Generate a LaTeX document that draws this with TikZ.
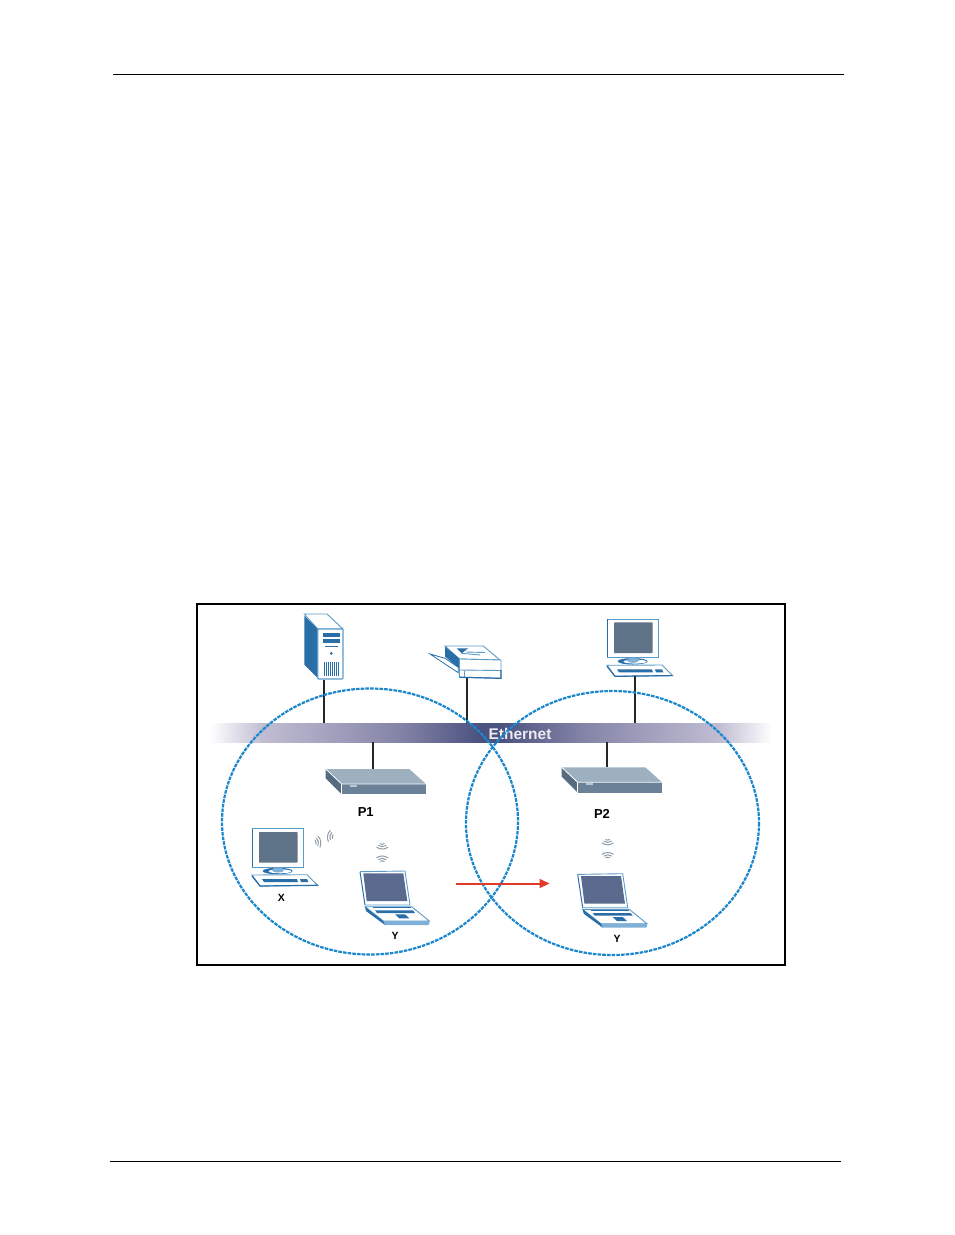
\documentclass[tikz,border=0pt]{standalone}
\usepackage{fontspec}
\setmainfont{Liberation Sans}
\usepackage{xcolor}
\usetikzlibrary{arrows.meta}
\definecolor{iconblue}{HTML}{2A6EA8}
\definecolor{edgeblue}{HTML}{5B9BC8}
\definecolor{padblue}{HTML}{7FB0D8}
\definecolor{bandblue}{HTML}{4C5280}
\definecolor{zoneblue}{HTML}{1A86CC}
\definecolor{monscreen}{HTML}{5F7389}
\definecolor{lapscreen}{HTML}{5A6A8F}
\definecolor{aptop}{HTML}{9DB0BF}
\definecolor{apfront}{HTML}{6B8197}
\definecolor{apside}{HTML}{566A80}
\definecolor{wavegray}{HTML}{8E9CAA}
\definecolor{movered}{HTML}{E03A2A}

\pgfdeclarehorizontalshading{bandshade}{100bp}{
	rgb(0bp)=(1,1,1); rgb(25bp)=(1,1,1); rgb(29.7bp)=(.753,.741,.827); rgb(41.6bp)=(.522,.522,.659); rgb(49bp)=(.298,.322,.502);
	rgb(51bp)=(.298,.322,.502); rgb(58.4bp)=(.522,.522,.659); rgb(70.3bp)=(.753,.741,.827); rgb(75bp)=(1,1,1); rgb(100bp)=(1,1,1)}

\tikzset{
	link/.style={black!85, line width=1.8pt},
	zone/.style={zoneblue, line width=2.2pt, dash pattern=on 3.6pt off 1.1pt},
	iconline/.style={edgeblue, line width=0.9pt},
	pics/wavepic/.style={code={
		\foreach \r in {3,5.5,8}
			\draw[wavegray, line width=1pt] (-0.72*\r,-0.7*\r) .. controls (-0.3*\r,-1.02*\r) and (0.3*\r,-1.02*\r) .. (0.72*\r,-0.7*\r);
	}},
	pics/monitorpic/.style={code={
		\draw[iconline, fill=white] (7.3,6.7) rectangle (58.3,45);
		\draw[iconblue, line width=1.3pt] (7.3,6.7) -- (7.3,45);
		\fill[monscreen, rounded corners=0.7pt] (14,10) rectangle (52.7,40.7);
		\fill[iconblue] (32.7,49) ellipse [x radius=15, y radius=3.2];
		\fill[white] (35,49.3) ellipse [x radius=11.5, y radius=2];
		\fill[padblue] (33,48) ellipse [x radius=6, y radius=2.5];
		\draw[iconline, fill=white] (7,53) -- (62,52.7) -- (72.7,63.3) -- (15,64) -- cycle;
		\draw[iconblue, line width=1.2pt] (7,54) -- (15,64) -- (72.7,63.3);
		\fill[iconblue] (17,57) -- (52,57) -- (53,60) -- (19,60) -- cycle;
		\fill[iconblue] (55,57) -- (62,57) -- (63.5,60) -- (56,60) -- cycle;
	}},
	pics/appic/.style={code={
		\fill[aptop] (0,0) -- (83.6,0) -- (100.3,15) -- (16,15) -- cycle;
		\fill[apfront] (16,15) rectangle (100.3,25.3);
		\fill[apside] (0,0) -- (16,15) -- (16,25.3) -- (0,9.3) -- cycle;
		\draw[white, line width=0.8pt] (0,0) -- (16,15) -- (100.3,15);
		\draw[white, line width=0.6pt] (16,15) -- (16,25.3);
		\fill[aptop!70!white] (24,16) rectangle (31.5,17.7);
	}},
	pics/laptoppic/.style={code={
		\draw[iconblue, line width=1pt] (10,36.7) -- (15,70);
		\draw[iconline] (10,36.7) -- (55,36) -- (60,70) -- (15,70);
		\fill[lapscreen] (13.3,38.3) -- (53.3,38.3) -- (57.3,66) -- (16.7,66) -- cycle;
		\draw[iconline, fill=white] (15,71.7) -- (61.7,71.7) -- (79.3,86) -- (33.3,86) -- cycle;
		\fill[padblue] (33.3,86) -- (79.3,86) -- (79.3,89) -- (78,90) -- (35,90) -- cycle;
		\fill[iconblue] (15,71.7) -- (33.3,86) -- (35,90) -- (16,76) -- cycle;
		\draw[iconblue, line width=0.7pt] (23,72.7) -- (61,72.7);
		\fill[iconblue] (25,75.3) -- (63,75.3) -- (65,78) -- (27,78) -- cycle;
		\fill[iconblue] (45,79.3) -- (55,79.3) -- (59.3,83.3) -- (49.3,83.3) -- cycle;
	}}
}

\begin{document}
\begin{tikzpicture}[x=1pt, y=-1pt]
	\useasboundingbox (0,0) rectangle (954,1235);
	\draw[black, line width=0.8pt] (113,74.5) to (844,74.5);
	\draw[black, line width=0.8pt] (110,1161) to (841,1161);
	\draw[black, line width=1.8pt] (197,604) rectangle (785,965);

	% ethernet band
	\fill[shading=bandshade] (210,723) rectangle (772,742);
	\node (ethernet) at (520,734) {\fontsize{15.5}{16}\selectfont\bfseries\color{white!88!bandblue}Ethernet};

	% server
	\draw[iconline, fill=white] (304.3,614) -- (327,614) -- (343,629) -- (317.7,629) -- cycle;
	\fill[iconblue] (304.3,615.7) -- (317.7,629) -- (317.7,678) -- (304.3,664.7) -- cycle;
	\draw[iconline, fill=white, line width=1.1pt, rounded corners=0.8pt] (317.7,629) rectangle (343,679);
	\fill[iconblue] (323,633) rectangle (340.3,636.7);
	\fill[iconblue] (323,639) rectangle (340.3,643.3);
	\fill[iconblue] (325.3,646) rectangle (337.7,647.3);
	\fill[iconblue] (331.3,653.3) circle (1.5);
	\foreach \x in {0,...,7}
		\fill[iconblue] (323.7+2.1*\x,662.3) rectangle (324.7+2.1*\x,676.3);

	% printer
	\draw[iconblue, fill=white, line width=0.8pt] (430,654) -- (445,658.3) -- (458.3,667.3) -- (458.3,672.7) -- (445,664) -- cycle;
	\draw[iconline, fill=white] (445,646) -- (483.3,646) -- (500,660) -- (459.3,659) -- cycle;
	\fill[iconblue] (445,646.7) -- (459.3,658.3) -- (459.3,668.3) -- (445,656.7) -- cycle;
	\fill[iconblue] (456.7,648.3) -- (468.3,648.3) -- (461.7,653.3) -- cycle;
	\draw[iconline] (466,652) -- (485,652.5);
	\draw[iconline] (461.7,653.3) -- (480,655);
	\draw[iconline, fill=white] (459.3,659) -- (501,660) -- (501,678.3) -- (459.3,677) -- cycle;
	\draw[iconline] (459.3,670) -- (501,670.5);
	\draw[iconline] (464.5,671) -- (464.5,677.5);
	\draw[iconblue, line width=1.2pt] (459.3,677.3) -- (501,678.3) -- (501,670);

	% monitors, access points, laptops
	\pic (hostpc) at (600,612.3) {monitorpic};
	\pic (stationx) at (245,822) {monitorpic};
	\pic (apone) at (325.7,769) {appic};
	\pic (aptwo) at (561.7,767.3) {appic};
	\pic (lapone) at (350,835) {laptoppic};
	\pic (laptwo) at (567.7,837.7) {laptoppic};

	\pic[rotate=-80] at (313.3,842.7) {wavepic};
	\pic[rotate=80] at (335,837) {wavepic};
	\pic[rotate=180] at (382.3,841.5) {wavepic};
	\pic at (382.3,863.5) {wavepic};
	\pic[rotate=180] at (607.7,837.3) {wavepic};
	\pic at (607.7,860) {wavepic};

	% drops to the band
	\coordinate (serverfoot) at (324,679.5);
	\coordinate (servertap) at (324,723);
	\coordinate (printerfoot) at (467.3,678);
	\coordinate (printertap) at (467.3,723);
	\coordinate (hostfoot) at (634.7,676);
	\coordinate (hosttap) at (634.7,723);
	\coordinate (aponetap) at (373.3,742);
	\coordinate (aponetop) at (373.3,769);
	\coordinate (aptwotap) at (607.3,742);
	\coordinate (aptwotop) at (607.3,767.3);
	\draw[link] (serverfoot) to (servertap);
	\draw[link] (printerfoot) to (printertap);
	\draw[link] (hostfoot) to (hosttap);
	\draw[link] (aponetap) to (aponetop);
	\draw[link] (aptwotap) to (aptwotop);

	% coverage cells
	\draw[zone] (370,821.5) ellipse [x radius=148, y radius=133];
	\draw[zone] (612.5,823) ellipse [x radius=146.5, y radius=132];

	% roaming arrow
	\coordinate (movefrom) at (455.7,883.5);
	\coordinate (moveto) at (549.5,883.5);
	\draw[-{Triangle[length=10pt, width=9pt]}, movered, line width=2pt] (movefrom) to (moveto);

	\node[font=\fontsize{13}{13}\selectfont\bfseries] (pone) at (365.7,812.5) {P1};
	\node[font=\fontsize{13}{13}\selectfont\bfseries] (ptwo) at (602,813.7) {P2};
	\node[font=\fontsize{10.5}{11}\selectfont\bfseries] (labelx) at (281.3,897.7) {X};
	\node[font=\fontsize{10.5}{11}\selectfont\bfseries] (labely) at (395,935.7) {Y};
	\node[font=\fontsize{10.5}{11}\selectfont\bfseries] (labelyb) at (617,939) {Y};
\end{tikzpicture}
\end{document}
